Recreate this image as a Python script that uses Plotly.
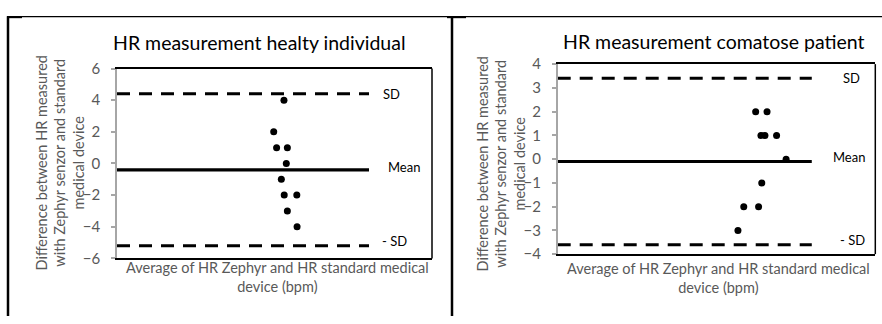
import plotly.graph_objects as go

W, H = 882, 324

# ---------------- data ----------------
# Healthy individual
healthy_avg = [63.6, 59.7, 60.8, 64.9, 64.5, 62.6, 63.7, 68.5, 64.9, 68.6]
healthy_diff = [4, 2, 1, 1, 0, -1, -2, -2, -3, -4]
healthy_mean = -0.4
healthy_sd_hi = 4.4
healthy_sd_lo = -5.2

# Comatose patient
coma_avg = [74.8, 79.1, 76.8, 78.3, 82.7, 86.3, 77.1, 70.3, 75.9, 68.1]
coma_diff = [2, 2, 1, 1, 1, 0, -1, -2, -2, -3]
coma_mean = -0.1
coma_sd_hi = 3.4
coma_sd_lo = -3.6

line_x = [0, 96]
x_range = [0, 120]
healthy_yticks = [-6, -4, -2, 0, 2, 4, 6]
coma_yticks = [-4, -3, -2, -1, 0, 1, 2, 3, 4]

titles = ["HR measurement healty individual", "HR measurement comatose patient"]
ytitle = "Difference between HR measured<br>with Zephyr senzor and standard<br>medical device"
xtitle = "Average of HR Zephyr and HR standard medical<br>device (bpm)"
line_labels = ["SD", "Mean", "- SD"]

FONT = "Lato"
GRAY = "#595959"

def px_x(p):
    return p / W

def px_y(p):
    return 1 - p / H

fig = go.Figure()

panels = [
    dict(avg=healthy_avg, diff=healthy_diff, mean=healthy_mean, hi=healthy_sd_hi, lo=healthy_sd_lo,
         xa="x", ya="y", xdom=[117, 432], ydom=[62, 263], yr=[-6, 6], ticks=healthy_yticks,
         title=titles[0], tx=259.5, ty=34, ytx=60, yty=162.5, xtx=277.5, xty=283,
         shifts=[(12, 0), (17, 3), (11, 5)]),
    dict(avg=coma_avg, diff=coma_diff, mean=coma_mean, hi=coma_sd_hi, lo=coma_sd_lo,
         xa="x2", ya="y2", xdom=[557.7, 875.3], ydom=[57.3, 258.5], yr=[-4, 4], ticks=coma_yticks,
         title=titles[1], tx=713.5, ty=33, ytx=501, yty=162.5, xtx=718.5, xty=284,
         shifts=[(29, 0), (19, 5), (26, 5)]),
]

annotations = []
shapes = []

for i, p in enumerate(panels):
    xa, ya = p["xa"], p["ya"]
    for yv, dash, w in [(p["hi"], "13px,9px", 3), (p["lo"], "13px,9px", 3), (p["mean"], "solid", 3.2)]:
        fig.add_trace(go.Scatter(x=line_x, y=[yv, yv], mode="lines",
                                 line=dict(color="black", width=w, dash=dash),
                                 xaxis=xa, yaxis=ya, showlegend=False, hoverinfo="skip"))
    fig.add_trace(go.Scatter(x=p["avg"], y=p["diff"], mode="markers",
                             marker=dict(color="black", size=7),
                             xaxis=xa, yaxis=ya, showlegend=False))
    for lbl, yv, (xs, ys) in zip(line_labels, [p["hi"], p["mean"], p["lo"]], p["shifts"]):
        annotations.append(dict(x=line_x[1], y=yv, xref=xa, yref=ya, text=lbl, showarrow=False,
                                xanchor="left", yanchor="middle", xshift=xs, yshift=ys,
                                font=dict(family=FONT, size=13, color="black")))
    annotations.append(dict(x=px_x(p["tx"]), y=px_y(p["ty"]), xref="paper", yref="paper",
                            text=p["title"], showarrow=False, xanchor="center", yanchor="middle",
                            font=dict(family=FONT, size=19.5, color="black")))
    annotations.append(dict(x=px_x(p["ytx"]), y=px_y(p["yty"]), xref="paper", yref="paper",
                            text=ytitle, showarrow=False, textangle=-90, xanchor="center",
                            yanchor="middle", font=dict(family=FONT, size=14.5, color=GRAY)))
    annotations.append(dict(x=px_x(p["xtx"]), y=px_y(p["xty"]), xref="paper", yref="paper",
                            text=xtitle, showarrow=False, xanchor="center", yanchor="middle",
                            font=dict(family=FONT, size=14.5, color=GRAY)))
    xd = [px_x(p["xdom"][0]), px_x(p["xdom"][1])]
    yd = [px_y(p["ydom"][1]), px_y(p["ydom"][0])]
    axn = "" if i == 0 else "2"
    fig.update_layout(**{
        "xaxis" + axn: dict(domain=xd, range=x_range, showticklabels=False, ticks="",
                            showgrid=False, zeroline=False, showline=True, linecolor="black",
                            linewidth=1.5, mirror=True, anchor=ya),
        "yaxis" + axn: dict(domain=yd, range=p["yr"], tickvals=p["ticks"], showgrid=False,
                            zeroline=False, showline=True, linecolor="#a6a6a6", linewidth=1.5,
                            ticks="outside", ticklen=4, tickcolor="#a6a6a6", tickwidth=1.5,
                            tickfont=dict(family=FONT, size=15, color=GRAY), anchor=xa,
                            ticklabelstandoff=8),
    })
    shapes.append(dict(type="line", xref=xa + " domain", yref=ya + " domain", x0=1, x1=1, y0=0, y1=1,
                       line=dict(color="black", width=1.5)))

# table borders
shapes += [
    dict(type="line", xref="paper", yref="paper", x0=px_x(7), x1=1, y0=px_y(7), y1=px_y(7),
         line=dict(color="black", width=1.2)),
    dict(type="line", xref="paper", yref="paper", x0=px_x(8), x1=px_x(8), y0=px_y(6.5), y1=0,
         line=dict(color="black", width=2.5)),
    dict(type="line", xref="paper", yref="paper", x0=px_x(452), x1=px_x(452), y0=px_y(6.5), y1=0,
         line=dict(color="black", width=2.5)),
    dict(type="line", xref="paper", yref="paper", x0=px_x(7), x1=px_x(22), y0=px_y(7.5), y1=px_y(7.5),
         line=dict(color="black", width=2.2)),
    dict(type="line", xref="paper", yref="paper", x0=px_x(447), x1=px_x(466), y0=px_y(7.5), y1=px_y(7.5),
         line=dict(color="black", width=2.2)),
]

fig.update_layout(width=W, height=H, margin=dict(l=0, r=0, t=0, b=0),
                  paper_bgcolor="white", plot_bgcolor="white",
                  annotations=annotations, shapes=shapes, font=dict(family=FONT))

fig.write_html("out.html", config={"displayModeBar": False},
               post_script="document.body.style.margin='0';document.body.style.overflow='hidden';")
